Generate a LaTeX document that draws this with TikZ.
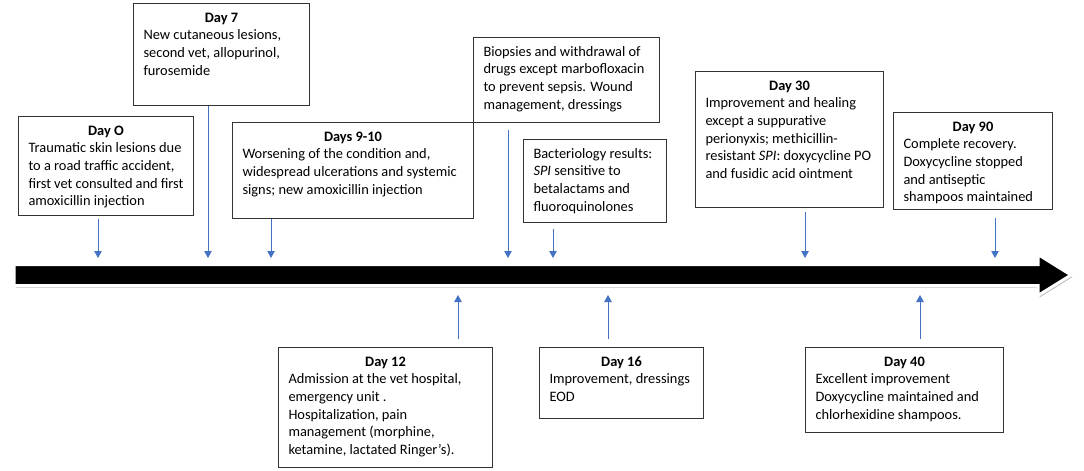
\documentclass[tikz,border=0pt]{standalone}
\usepackage{fontspec}
\setmainfont{Carlito}
\usepackage{xcolor}
\usetikzlibrary{arrows.meta, shadows}

\definecolor{tickblue}{HTML}{4472C4}
\newcommand{\evtext}[3]{\parbox[t][\dimexpr#2-13pt\relax][t]{\dimexpr#1-20pt\relax}{\raggedright\strut#3}}
\newcommand{\daytitle}[1]{{\centering\bfseries#1\par}}

\begin{document}
\begin{tikzpicture}[x=1pt, y=-1pt,
    event/.style={draw=black!80, line width=1pt, anchor=north west, inner xsep=10pt, inner ysep=6.5pt, font=\fontsize{14.4}{17.6}\selectfont},
    tick/.style={draw=tickblue, line width=1pt, -{Triangle[length=7pt, width=7.5pt]}},
    timeline/.style={fill=black, draw=white, line width=3pt, drop shadow={shadow xshift=1.5pt, shadow yshift=-2pt, opacity=0.45, fill=black!60}}
]
\useasboundingbox (0,0) rectangle (1084,471);

\path[timeline] (14,264.5) -- (1038,264.5) -- (1038,254.5) -- (1071,275) -- (1038,295.5) -- (1038,285.5) -- (14,285.5) -- cycle;

\node[event] (d0) at (18,116) {\evtext{175pt}{99pt}{\daytitle{Day O}Traumatic skin lesions due\\to a road traffic accident,\\first vet consulted and first\\amoxicillin injection}};
\node[event] (d7) at (133,3) {\evtext{176pt}{102pt}{\daytitle{Day 7}New cutaneous lesions,\\second vet, allopurinol,\\furosemide}};
\node[event] (d9) at (232,122) {\evtext{241pt}{96pt}{\daytitle{Days 9-10}Worsening of the condition and,\\widespread ulcerations and systemic\\signs; new amoxicillin injection}};
\node[event] (bio) at (473,37) {\evtext{186pt}{85pt}{Biopsies and withdrawal of\\drugs except marbofloxacin\\to prevent sepsis. Wound\\management, dressings}};
\node[event] (bact) at (523,139) {\evtext{143pt}{83pt}{Bacteriology results:\\\textit{SPI} sensitive to\\betalactams and\\fluoroquinolones}};
\node[event] (d30) at (695,71) {\evtext{188pt}{136pt}{\daytitle{Day 30}Improvement and healing\\except a suppurative\\perionyxis; methicillin-\\resistant \textit{SPI}: doxycycline PO\\and fusidic acid ointment}};
\node[event] (d90) at (893,112) {\evtext{159pt}{97pt}{\daytitle{Day 90}Complete recovery.\\Doxycycline stopped\\and antiseptic\\shampoos maintained}};

\node[event] (d12) at (278,347) {\evtext{214pt}{120pt}{\daytitle{Day 12}Admission at the vet hospital,\\emergency unit .\\Hospitalization, pain\\management (morphine,\\ketamine, lactated Ringer’s).}};
\node[event] (d16) at (539,347) {\evtext{164pt}{71pt}{\daytitle{Day 16}Improvement, dressings\\EOD}};
\node[event] (d40) at (805,347) {\evtext{198pt}{85pt}{\daytitle{Day 40}Excellent improvement\\Doxycycline maintained and\\chlorhexidine shampoos.}};

\coordinate (t0) at (98,258);
\coordinate (t7) at (208,258);
\coordinate (t9) at (271,258);
\coordinate (tbio) at (508,258);
\coordinate (tbact) at (553,258);
\coordinate (t30) at (805,258);
\coordinate (t90) at (995,258);
\coordinate (t12) at (458,295);
\coordinate (t16) at (608,295);
\coordinate (t40) at (920,295);

\draw[tick, shorten <=3pt] (d0.south -| t0) -- (t0);
\draw[tick] (d7.south -| t7) -- (t7);
\draw[tick] (d9.south -| t9) -- (t9);
\draw[tick, shorten <=7pt] (bio.south -| tbio) -- (tbio);
\draw[tick, shorten <=6pt] (bact.south -| tbact) -- (tbact);
\draw[tick, shorten <=4pt] (d30.south -| t30) -- (t30);
\draw[tick, shorten <=8pt] (d90.south -| t90) -- (t90);

\draw[tick, shorten <=8pt] (d12.north -| t12) -- (t12);
\draw[tick, shorten <=8pt] (d16.north -| t16) -- (t16);
\draw[tick, shorten <=8pt] (d40.north -| t40) -- (t40);

\end{tikzpicture}
\end{document}
